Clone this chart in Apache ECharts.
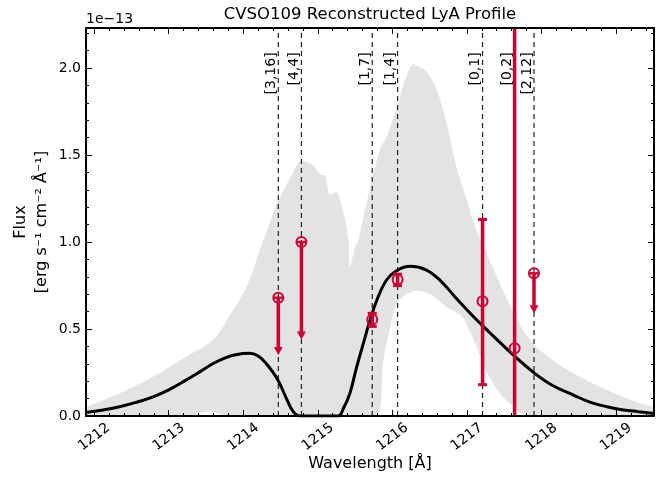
<!DOCTYPE html>
<html>
<head>
<meta charset="utf-8">
<script src="https://cdn.jsdelivr.net/npm/echarts@6/dist/echarts.min.js"></script>
<style>
  html, body { margin: 0; padding: 0; background: #fff; }
  #chart { width: 663px; height: 481px; }
</style>
</head>
<body>
<div id="chart"></div>
<script>
// flux values are in units of 1e-13 erg/s/cm2/A (the axis offset text)
const modelWave = [1211.89, 1212.1, 1212.34, 1212.56, 1212.79, 1213.0, 1213.23, 1213.42, 1213.59, 1213.75,
  1213.9, 1214.08, 1214.2, 1214.31, 1214.46, 1214.58, 1214.67, 1214.76, 1215.0, 1215.27,
  1215.35, 1215.43, 1215.52, 1215.61, 1215.7, 1215.79, 1215.92, 1216.06, 1216.24, 1216.45,
  1216.64, 1216.85, 1217.08, 1217.22, 1217.45, 1217.65, 1217.91, 1218.15, 1218.43, 1218.65,
  1218.88, 1219.1, 1219.3, 1219.51];
const modelFlux = [0.02, 0.033, 0.053, 0.078, 0.11, 0.15, 0.206, 0.255, 0.3, 0.333,
  0.352, 0.36, 0.345, 0.3, 0.21, 0.1, 0.025, 0, 0, 0,
  0.05, 0.13, 0.28, 0.416, 0.55, 0.664, 0.78, 0.836, 0.86, 0.84,
  0.78, 0.68, 0.575, 0.515, 0.42, 0.34, 0.245, 0.175, 0.12, 0.08,
  0.053, 0.035, 0.025, 0.015];

// grey uncertainty band
const bandUpWave = [1211.89, 1212.34, 1212.79, 1213.23, 1213.59, 1213.81, 1214.04, 1214.22, 1214.33, 1214.45,
  1214.63, 1214.78, 1214.92, 1215.03, 1215.1, 1215.16, 1215.25, 1215.3, 1215.37, 1215.41,
  1215.43, 1215.5, 1215.54, 1215.7, 1215.84, 1215.92, 1216.06, 1216.15, 1216.28, 1216.39,
  1216.46, 1216.6, 1216.73, 1216.86, 1217.0, 1217.1, 1217.31, 1217.53, 1217.76, 1217.98,
  1218.43, 1218.88, 1219.32, 1219.51];
const bandUpFlux = [0.053, 0.13, 0.225, 0.34, 0.435, 0.57, 0.74, 0.95, 1.08, 1.22,
  1.37, 1.466, 1.447, 1.39, 1.38, 1.275, 1.285, 1.237, 1.12, 1.008,
  0.855, 0.97, 1.008, 1.31, 1.54, 1.6, 1.77, 1.905, 2.02, 2.0,
  1.98, 1.87, 1.68, 1.43, 1.24, 1.1, 0.89, 0.68, 0.49, 0.378,
  0.245, 0.149, 0.073, 0.053];
const bandLowWave = [1211.89, 1213.35, 1213.44, 1213.52, 1213.64, 1213.77, 1215.78, 1215.88, 1215.97, 1216.06,
  1216.19, 1216.33, 1216.51, 1216.73, 1216.91, 1217.0, 1217.09, 1217.18, 1217.27, 1217.44,
  1217.6, 1217.71, 1217.85, 1219.51];
const bandLowFlux = [0, 0, 0.018, 0.025, 0.018, 0, 0, 0.32, 0.51, 0.645,
  0.7, 0.72, 0.7, 0.626, 0.58, 0.52, 0.44, 0.34, 0.245, 0.13,
  0.063, 0.02, 0, 0];

// measured points, one per marked transition
const pointLabels = ['[3,16]', '[4,4]', '[1,7]', '[1,4]', '[0,1]', '[0,2]', '[2,12]'];
const pointWave = [1214.47, 1214.78, 1215.73, 1216.07, 1217.21, 1217.64, 1217.90];
const pointFlux = [0.68, 1.0, 0.555, 0.785, 0.66, 0.39, 0.82];
const pointLow = [0.35, 0.44, 0.515, 0.75, 0.18, -0.6, 0.59];
const pointHigh = [0.68, 1.0, 0.59, 0.815, 1.13, 3.0, 0.82];
const pointUpperLimit = [1, 1, 0, 0, 0, 0, 1];

const X_MIN = 1211.89, X_MAX = 1219.51, Y_MAX = 2.23;
const LABEL_Y = 2.09;
const RED = '#cc0033';
const FONT = 'DejaVu Sans';

const zip = (a, b) => a.map((v, i) => [v, b[i]]);

const chart = echarts.init(document.getElementById('chart'), null, { renderer: 'canvas' });

const frame = { show: true, onZero: false, lineStyle: { color: '#000', width: 2 } };
const ticks = { show: true, inside: true, length: 6, lineStyle: { color: '#000', width: 1 } };
const minor = { show: true, splitNumber: 5, length: 3, lineStyle: { color: '#000', width: 1 } };

const xBase = {
  type: 'value', min: X_MIN, max: X_MAX, splitNumber: 8, z: 10,
  axisLine: frame, axisTick: ticks, minorTick: minor,
  splitLine: { show: false }, minorSplitLine: { show: false }
};
const yBase = {
  type: 'value', min: 0, max: Y_MAX, interval: 0.5, z: 10,
  axisLine: frame, axisTick: ticks, minorTick: minor,
  splitLine: { show: false }, minorSplitLine: { show: false }
};

chart.setOption({
  animation: false,
  backgroundColor: '#fff',
  textStyle: { fontFamily: FONT, color: '#000' },
  title: [
    {
      text: 'CVSO109 Reconstructed LyA Profile', left: 370, top: 6, padding: 0, textAlign: 'center',
      textStyle: { fontSize: 16.5, fontWeight: 'normal', color: '#000', fontFamily: FONT }
    },
    {
      text: '1e\u221213', left: 86, top: 12, padding: 0,
      textStyle: { fontSize: 14, fontWeight: 'normal', color: '#000', fontFamily: FONT }
    }
  ],
  grid: { left: 86, right: 9, top: 28, bottom: 65, containLabel: false, outerBoundsMode: 'none' },
  xAxis: [
    Object.assign({}, xBase, {
      position: 'bottom',
      axisLabel: {
        rotate: 37, align: 'center', verticalAlign: 'middle', margin: 21,
        fontSize: 14, color: '#000', showMinLabel: false, showMaxLabel: false,
        formatter: (v) => String(Math.round(v))
      },
      name: 'Wavelength [Å]', nameLocation: 'middle', nameGap: 40, nameMoveOverlap: false,
      nameTextStyle: { fontSize: 16, color: '#000' }
    }),
    Object.assign({}, xBase, { position: 'top', axisLabel: { show: false } })
  ],
  yAxis: [
    Object.assign({}, yBase, {
      position: 'left',
      axisLabel: {
        fontSize: 14, color: '#000', margin: 5, showMaxLabel: false,
        formatter: (v) => v.toFixed(1)
      },
      name: 'Flux\n[erg s\u207B\u00B9 cm\u207B\u00B2 Å\u207B\u00B9]',
      nameLocation: 'middle', nameRotate: 90, nameGap: 34, nameMoveOverlap: false,
      nameTextStyle: { fontSize: 16, lineHeight: 21, color: '#000', align: 'center' }
    }),
    Object.assign({}, yBase, { position: 'right', axisLabel: { show: false } })
  ],
  series: [
    {
      name: 'band upper', type: 'line', data: zip(bandUpWave, bandUpFlux),
      symbol: 'none', smooth: 0.3, silent: true, z: 1,
      lineStyle: { width: 0 }, areaStyle: { color: '#e3e3e3', opacity: 1 }
    },
    {
      name: 'band lower', type: 'line', data: zip(bandLowWave, bandLowFlux),
      symbol: 'none', smooth: 0.3, silent: true, z: 1,
      lineStyle: { width: 0 }, areaStyle: { color: '#fff', opacity: 1 }
    },
    {
      name: 'transitions', type: 'custom', z: 3, silent: true,
      data: pointWave.map((w) => [w, LABEL_Y]),
      encode: { x: 0, y: 1 },
      renderItem: (params, api) => {
        const w = api.value(0);
        const bottom = api.coord([w, 0]);
        const top = api.coord([w, Y_MAX]);
        const lab = api.coord([w, LABEL_Y]);
        return {
          type: 'group',
          children: [
            {
              type: 'line',
              shape: { x1: bottom[0], y1: bottom[1], x2: top[0], y2: top[1] },
              style: { stroke: '#222', lineWidth: 1.2, lineDash: [5, 4] }
            },
            {
              type: 'text', x: lab[0] - 7, y: lab[1], rotation: Math.PI / 2,
              style: {
                text: pointLabels[params.dataIndex], fill: '#000', font: '14px "DejaVu Sans"',
                align: 'right', verticalAlign: 'middle', textAlign: 'right', textVerticalAlign: 'middle'
              }
            }
          ]
        };
      }
    },
    {
      name: 'model', type: 'line', data: zip(modelWave, modelFlux),
      symbol: 'none', smooth: 0.4, z: 4,
      lineStyle: { color: '#000', width: 3 }
    },
    {
      name: 'points', type: 'custom', z: 5, silent: true,
      data: pointWave.map((w, i) => [w, pointFlux[i], pointLow[i], pointHigh[i], pointUpperLimit[i]]),
      encode: { x: 0, y: 1 },
      renderItem: (params, api) => {
        const cs = params.coordSys;
        const x = api.coord([api.value(0), 0])[0];
        const yv = api.coord([0, api.value(1)])[1];
        const yLoRaw = api.coord([0, api.value(2)])[1];
        const yHiRaw = api.coord([0, api.value(3)])[1];
        const yLo = Math.min(yLoRaw, cs.y + cs.height);
        const yHi = Math.max(yHiRaw, cs.y);
        const children = [];
        if (api.value(4) === 1) {
          children.push({ type: 'line', shape: { x1: x, y1: yv, x2: x, y2: yLo - 6 },
            style: { stroke: RED, lineWidth: 3.5 } });
          children.push({ type: 'polygon', shape: { points: [[x - 4.5, yLo - 8], [x + 4.5, yLo - 8], [x, yLo]] },
            style: { fill: RED } });
          children.push({ type: 'line', shape: { x1: x - 5, y1: yv, x2: x + 5, y2: yv },
            style: { stroke: RED, lineWidth: 2.5 } });
        } else {
          children.push({ type: 'line', shape: { x1: x, y1: yLo, x2: x, y2: yHi },
            style: { stroke: RED, lineWidth: 3.5 } });
          if (yLo === yLoRaw) {
            children.push({ type: 'line', shape: { x1: x - 4.5, y1: yLo, x2: x + 4.5, y2: yLo },
              style: { stroke: RED, lineWidth: 3 } });
          }
          if (yHi === yHiRaw) {
            children.push({ type: 'line', shape: { x1: x - 4.5, y1: yHi, x2: x + 4.5, y2: yHi },
              style: { stroke: RED, lineWidth: 3 } });
          }
        }
        children.push({ type: 'circle', shape: { cx: x, cy: yv, r: 5 },
          style: { fill: 'none', stroke: RED, lineWidth: 2 } });
        return { type: 'group', children };
      }
    }
  ]
});
</script>
</body>
</html>
